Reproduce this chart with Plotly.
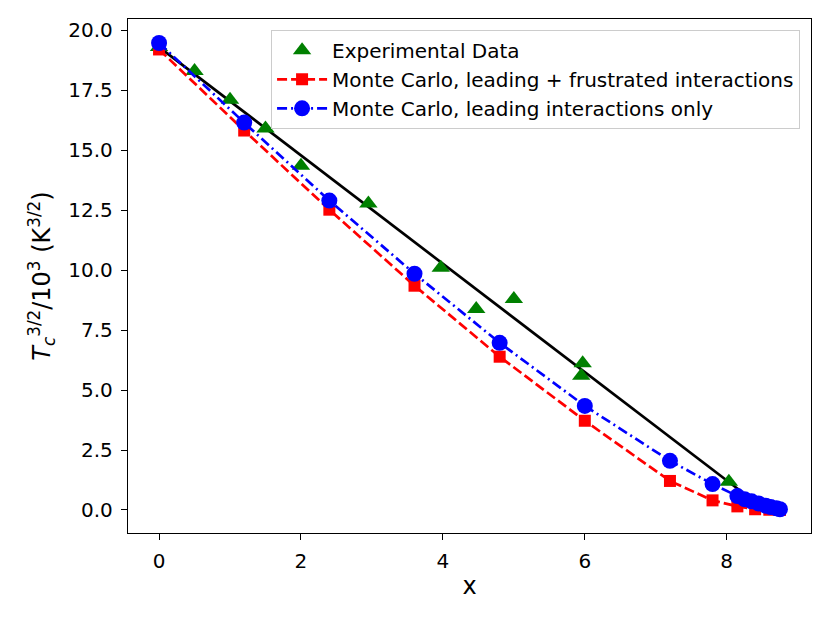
import plotly.graph_objects as go

# experimental points
exp_x = [0.0, 0.5, 1.0, 1.5, 2.0, 2.95, 3.97, 4.47, 5.0, 5.97, 5.95, 8.03]
exp_y = [19.3, 18.3, 17.1, 15.9, 14.35, 12.78, 10.1, 8.38, 8.8, 6.12, 5.6, 1.18]

# straight-line fit drawn through the experimental data
fit_x = [0.0, 8.2]
fit_y = [19.3, 0.78]

# Monte Carlo, leading + frustrated
mcf_x = [0.0, 1.2, 2.4, 3.6, 4.8, 6.0, 7.2, 7.8, 8.15, 8.4, 8.6, 8.75]
mcf_y = [19.2, 15.82, 12.52, 9.35, 6.39, 3.72, 1.21, 0.4, 0.15, 0.03, 0.01, 0.0]

# Monte Carlo, leading only
mcl_x = [0.0, 1.2, 2.4, 3.6, 4.8, 6.0, 7.2, 7.8, 8.15, 8.25, 8.35, 8.45, 8.55, 8.62, 8.7, 8.75]
mcl_y = [19.47, 16.15, 12.9, 9.85, 6.97, 4.34, 2.05, 1.08, 0.58, 0.45, 0.36, 0.27, 0.18, 0.12, 0.07, 0.03]

FONT = 'DejaVu Sans, Arial'

fig = go.Figure()
fig.add_trace(go.Scatter(x=fit_x, y=fit_y, mode='lines', line=dict(color='black', width=2.7),
                         showlegend=False))
fig.add_trace(go.Scatter(x=exp_x, y=exp_y, mode='markers', name='Experimental Data',
                         marker=dict(symbol='triangle-up', size=16, color='#008000'),
                         legendgroup='a'))
fig.add_trace(go.Scatter(x=mcf_x, y=mcf_y, mode='lines+markers',
                         name='Monte Carlo, leading + frustrated interactions',
                         line=dict(color='#ff0000', width=2.7, dash='10px,4px'),
                         marker=dict(symbol='square', size=12, color='#ff0000'),
                         legendgroup='b'))
fig.add_trace(go.Scatter(x=mcl_x, y=mcl_y, mode='lines+markers',
                         name='Monte Carlo, leading interactions only',
                         line=dict(color='#0000ff', width=2.7, dash='10px,4px,2px,4px'),
                         marker=dict(symbol='circle', size=16, color='#0000ff'),
                         legendgroup='c'))

axis_common = dict(showline=True, linecolor='black', linewidth=1.3, mirror=True,
                   ticks='outside', ticklen=6, tickwidth=1.3, tickcolor='black',
                   showgrid=False, zeroline=False, ticklabelstandoff=4,
                   tickfont=dict(family=FONT, size=20, color='black'))

# page body adds ~8px offset, so the figure is sized to fit the window
fig.update_layout(
    width=822, height=615,
    paper_bgcolor='white', plot_bgcolor='white',
    margin=dict(l=120, r=19, t=11, b=90),
    font=dict(family=FONT, color='black'),
    xaxis=dict(range=[-0.4375, 9.1875], dtick=2, tick0=0,
               title=dict(text='x', font=dict(family=FONT, size=24), standoff=5),
               **axis_common),
    yaxis=dict(range=[-0.96, 20.47], dtick=2.5, tick0=0, tickformat='.1f',
               title=dict(text='<i>T</i><sub><i>c</i></sub><sup>3/2</sup>/10<sup>3</sup> (K<sup>3/2</sup>)',
                          font=dict(family=FONT, size=24), standoff=10),
               **axis_common),
    legend=dict(x=0.984, y=0.979, xanchor='right', yanchor='top',
                bgcolor='rgba(255,255,255,0.8)', bordercolor='#cccccc', borderwidth=1,
                font=dict(family=FONT, size=20), itemwidth=50,
                traceorder='grouped', tracegroupgap=0),
)

fig.write_html("out.html")
